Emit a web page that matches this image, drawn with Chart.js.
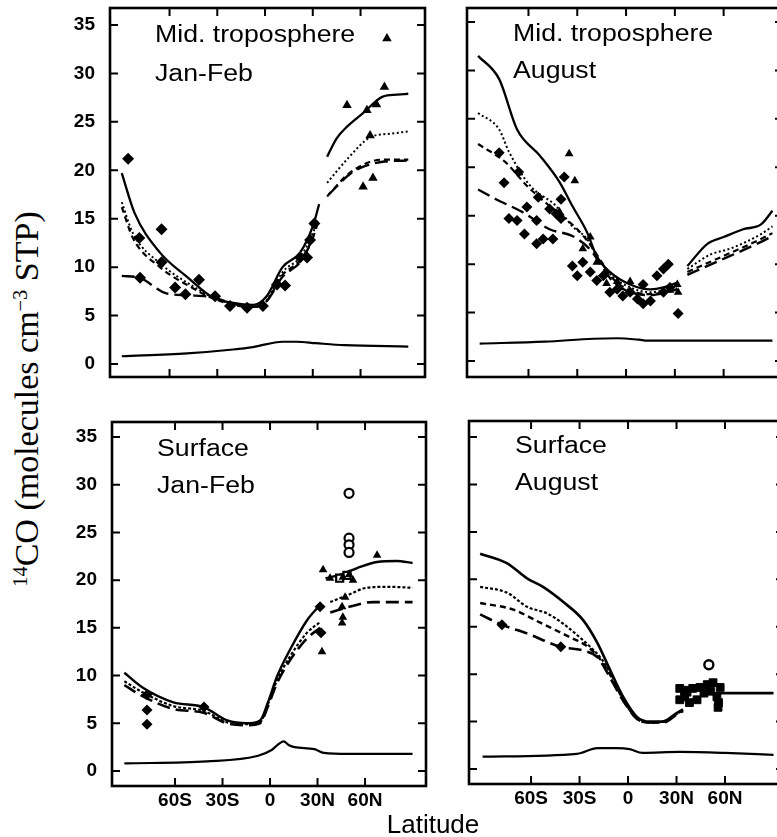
<!DOCTYPE html>
<html><head><meta charset="utf-8">
<script src="https://cdn.jsdelivr.net/npm/chart.js@4.4.0/dist/chart.umd.min.js"></script>
<style>
html,body{margin:0;padding:0;background:#fff;overflow:hidden;width:777px;height:837px;}
#wrap{position:relative;width:777px;height:837px;overflow:hidden;background:#fff;}
canvas{position:absolute;}
.lab{position:absolute;font-family:"Liberation Sans",Arial,Helvetica,sans-serif;font-size:23px;line-height:23px;color:#000;white-space:nowrap;transform:scaleX(1.16);transform-origin:0 0;}
#xtitle{position:absolute;left:383px;top:811px;width:100px;text-align:center;font-family:"Liberation Sans",Arial,sans-serif;font-size:26px;line-height:26px;color:#000;white-space:nowrap;}
#ytitle{position:absolute;left:-173px;top:379px;width:400px;height:40px;line-height:40px;text-align:center;font-family:"Liberation Serif","Times New Roman",serif;font-size:34px;color:#000;white-space:nowrap;transform:rotate(-90deg);transform-origin:50% 50%;}
#ytitle sup{font-size:0.6em;line-height:0;vertical-align:0.55em;}
</style></head>
<body><div id="wrap"></div>
<script>
// ---------- axis ticks ----------
const xTickValues = [-60, -30, 0, 30, 60];
const xTickLabels = ['60S', '30S', '0', '30N', '60N'];
const yTickValues = [0, 5, 10, 15, 20, 25, 30, 35];
const yTickLabels = ['0', '5', '10', '15', '20', '25', '30', '35'];
const xTitle = 'Latitude';
const panelTitles = [['Mid. troposphere', 'Jan-Feb'], ['Mid. troposphere', 'August'], ['Surface', 'Jan-Feb'], ['Surface', 'August']];

// ---------- Mid troposphere, Jan-Feb ----------
const tlSolid = [[-90,19.7],[-82,15.6],[-66,11.5],[-49,9.0],[-33,6.9],[-20,6.3],[-7.5,6.1],[1,7.0],[11,10.0],[22,11.5],[30,14.2],[34,16.5],[36,null],[39,21.4],[45,23.3],[51.5,24.5],[61.6,25.9],[74,27.6],[83,27.8],[90,27.9]];
const tlDotted = [[-90,16.7],[-83,13.5],[-66,10.4],[-45,8.0],[-33,6.9],[-20,6.2],[-7.5,5.9],[1,6.6],[11,9.5],[22,11.0],[30,13.5],[33,14.8],[36,null],[39,18.7],[53,21.4],[66,23.4],[80,23.8],[90,24.0]];
const tlShortDash = [[-90,16.2],[-83,13.0],[-66,10.0],[-45,7.8],[-33,6.8],[-20,6.1],[-7.5,5.9],[1,6.5],[11,9.2],[22,10.7],[30,13.0],[33,14.5],[36,null],[39,17.3],[53,19.7],[74,21.1],[90,21.1]];
const tlLongDash = [[-90,9.1],[-79,8.9],[-62,7.3],[-49,7.1],[-33,6.9],[-20,6.2],[-7.5,5.9],[1,6.5],[11,9.0],[22,10.5],[30,12.8],[36,null],[40,17.5],[55,19.8],[75,20.9],[90,21.0]];
const tlBase = [[-90,0.8],[-49,1.1],[-20,1.5],[-7.5,1.75],[11,2.3],[20,2.3],[32,2.15],[50,1.95],[90,1.8]];
const tlDiamonds = [[-86,21.2],[-65,13.9],[-79,13.0],[-65,10.5],[-78.5,8.9],[-56.5,7.9],[-50,7.2],[-41.5,8.7],[-31.4,7.0],[-22,6.0],[-11.3,5.8],[-1.3,6.0],[7.5,8.2],[12.6,8.1],[22,11.0],[26.4,11.0],[28.3,12.8],[31,14.5]];
const tlTriangles = [[76.6,33.6],[51.5,26.7],[64,26.2],[70,26.8],[75,28.6],[66,23.6],[61.6,18.3],[67.8,19.2]];

// ---------- Mid troposphere, August ----------
const trSolid = [[-91,31.5],[-78,29.1],[-67,23.9],[-53,21.2],[-41,18.5],[-33,16.0],[-24,13.3],[-18,10.8],[-10,9.2],[2.5,7.9],[15,7.4],[23,7.6],[31.5,8.1],[34.5,null],[37.7,9.8],[50,12.1],[60,12.8],[72,13.6],[83,14.1],[90,15.5]];
const trDotted = [[-91,25.6],[-78,23.9],[-72,21.6],[-59,18.1],[-43,16.0],[-33,13.9],[-24,12.6],[-18,10.8],[-10,9.0],[2.5,7.6],[15,7.1],[23,7.3],[31.5,7.8],[34.5,null],[37.7,9.5],[52,11.0],[64,11.6],[83,13.1],[90,13.9]];
const trShortDash = [[-91,22.4],[-74,20.5],[-61,18.1],[-45,15.7],[-30,13.6],[-22,12.0],[-15,10.2],[-8,8.5],[2.5,7.3],[15,6.9],[23,7.1],[31.5,7.5],[34.5,null],[37.7,9.2],[58,10.7],[83,12.6],[90,13.2]];
const trLongDash = [[-91,17.7],[-80,16.7],[-64,15.4],[-47,13.6],[-33,12.9],[-22,11.5],[-15,9.8],[-8,8.2],[2.5,7.1],[15,6.8],[23,7.0],[31.5,7.4],[34.5,null],[37.7,8.9],[58,10.4],[83,12.3],[90,12.9]];
const trBase = [[-90,1.8],[-50,2.0],[-20,2.3],[-5.5,2.35],[8,2.2],[13,2.1],[90,2.1]];
const trDiamonds = [[-78,21.5],[-75,18.4],[-66,19.5],[-61,15.9],[-72,14.7],[-67,14.5],[-62.5,13.1],[-55,14.5],[-55,12.1],[-51,12.6],[-45,12.6],[-54,16.9],[-47,15.7],[-43,15.2],[-40,16.7],[-38,19.0],[-40,14.7],[-33,9.8],[-30,8.8],[-26.6,10.2],[-22,9.2],[-18,8.3],[-14,8.8],[-10,7.1],[-5.5,7.4],[-2,6.7],[2.5,7.1],[7,6.4],[10.5,5.9],[10.5,7.9],[15,6.2],[19,8.8],[23,9.5],[26,10.0],[23,7.1],[27,7.6],[32,4.9]];
const trTriangles = [[-35,21.4],[-31.5,18.6],[-22,12.8],[-26.6,11.6],[-18,10.2],[-5.5,8.2],[2.5,8.2],[31.5,7.9],[32,7.1],[27,7.3],[-41,15.4],[-12,8.0]];

// ---------- Surface, Jan-Feb ----------
const blSolid = [[-92,10.3],[-80,8.7],[-61,7.2],[-42,6.7],[-27,5.3],[-14.5,5.0],[-6.3,5.3],[-1.3,7.2],[4.4,9.9],[12.6,12.7],[23.4,15.8],[31.6,17.4],[33.5,null],[35,20.2],[45,20.6],[57,21.4],[67.6,21.9],[80,22.0],[90,21.8]];
const blDotted = [[-92,9.4],[-80,8.2],[-61,6.8],[-42,6.3],[-27,5.1],[-14.5,4.9],[-6.3,5.1],[-1.3,7.0],[4.4,9.5],[12.6,12.0],[23.4,14.5],[31.6,15.6],[35,null],[38,17.7],[50,18.5],[61,19.2],[75,19.3],[90,19.2]];
const blLongDash = [[-92,9.0],[-80,7.8],[-61,6.5],[-42,6.1],[-27,5.0],[-14.5,4.8],[-6.3,5.0],[-1.3,6.8],[4.4,9.2],[12.6,11.6],[23.4,13.9],[31.6,15.0],[35,null],[38,16.6],[50,17.2],[65,17.7],[90,17.7]];
const blBase = [[-92,0.8],[-40,1.0],[-7.5,1.6],[1,2.2],[6,2.9],[8.6,3.1],[12,2.7],[15.5,2.5],[28,2.3],[34,1.9],[50,1.8],[90,1.8]];
const blDiamonds = [[-77.7,8.0],[-77.7,6.4],[-77.7,4.9],[-41.7,6.7],[31.6,17.2],[32.2,14.5]];
const blTriangles = [[33.5,21.1],[32.8,12.5],[37.9,20.2],[46,20.3],[52.4,20.0],[47.4,18.2],[45.5,17.2],[46,16.1],[45.5,15.5],[67.6,22.6],[50,20.6]];
const blCircles = [[49.9,29.1],[49.9,24.4],[49.9,23.7],[49.9,22.9]];
const blSquares = [[48.6,20.5],[44,20.2]];

// ---------- Surface, August ----------
const brSolid = [[-91.5,22.7],[-75,21.7],[-62.5,20.1],[-52.6,19.2],[-40,17.6],[-27.8,15.7],[-19,13.3],[-11,10.4],[-3,7.6],[5.5,5.5],[13.6,5.0],[21.6,5.0],[30,5.9],[34,6.3],[40,null],[45,8.0],[60,8.0],[75,8.0],[90,8.0]];
const brDotted = [[-91.5,19.2],[-75,18.6],[-62.5,17.1],[-50,16.4],[-40,15.3],[-30,13.9],[-23.5,12.9],[-16,11.5],[-9,9.5],[-3,7.4],[5.5,5.4],[13.6,4.9],[21.6,5.0],[30,5.8],[34,6.2]];
const brShortDash = [[-91.5,17.5],[-71,16.8],[-54,15.4],[-36,13.9],[-25,12.9],[-16,11.3],[-9,9.3],[-3,7.3],[5.5,5.3],[13.6,4.9],[21.6,5.0],[30,5.8],[34,6.2]];
const brLongDash = [[-91.5,16.3],[-78,15.2],[-62.5,14.3],[-42,12.9],[-28,12.5],[-19,11.8],[-11,9.6],[-3,7.2],[5.5,5.3],[13.6,4.9],[21.6,4.9],[30,5.7],[34,6.1]];
const brBase = [[-90,1.3],[-31.5,1.6],[-19,2.2],[-7,2.2],[1,2.1],[9,1.7],[32,1.8],[60,1.7],[90,1.5]];
const brDiamonds = [[-78,15.2],[-41.6,12.9]];
const brCircles = [[50,11.0]];
const brSquares = [[32,8.5],[35,8.3],[36.5,8.1],[40,8.5],[44.5,8.6],[49,8.9],[52.6,9.1],[55,7.6],[55.7,6.5],[32,7.3],[35,7.6],[42.7,7.3],[57,8.6],[38,7.0],[47,8.0],[51,8.2],[56,7.0]];

// ---------- helpers ----------
const toXY = a => a.map(([x, y]) => ({x, y}));
const lineDS = (pts, dash, w) => ({data: toXY(pts), showLine: true, borderColor: '#000', borderWidth: w, borderDash: dash,
  pointRadius: 0, fill: false, cubicInterpolationMode: 'monotone', spanGaps: false, order: 3});
const markDS = (pts, style, r, fill, bw) => ({data: toXY(pts), showLine: false, pointStyle: style, pointRadius: r,
  backgroundColor: fill, borderColor: '#000', borderWidth: bw, order: 1});
const DOT = [2, 2.5], SHORT = [6, 4], LONG = [13, 6];

const panels = [
  {frame: [110, 8, 425, 377], xr: [-97.4, 100.5], yr: [-1.34, 36.75], yLab: true, xLab: false,
   title: panelTitles[0], tpos: [155, 22.5, 62],
   ds: [lineDS(tlSolid, [], 2.3), lineDS(tlDotted, DOT, 2), lineDS(tlShortDash, SHORT, 2.2), lineDS(tlLongDash, LONG, 2.4), lineDS(tlBase, [], 2.2),
        markDS(tlDiamonds, 'rectRot', 6, '#000', 0), markDS(tlTriangles, 'triangle', 5.5, '#000', 0)]},
  {frame: [467, 8, 783, 377], xr: [-97.8, 96.5], yr: [-1.65, 36.44], yLab: false, xLab: false,
   title: panelTitles[1], tpos: [513, 21.5, 58.5],
   ds: [lineDS(trSolid, [], 2.3), lineDS(trDotted, DOT, 2), lineDS(trShortDash, SHORT, 2.2), lineDS(trLongDash, LONG, 2.4), lineDS(trBase, [], 2.2),
        markDS(trDiamonds, 'rectRot', 5.5, '#000', 0), markDS(trTriangles, 'triangle', 5, '#000', 0)]},
  {frame: [112, 422, 426, 786], xr: [-99.8, 98.5], yr: [-1.57, 36.57], yLab: true, xLab: true,
   title: panelTitles[2], tpos: [157, 436.5, 473.5],
   ds: [lineDS(blSolid, [], 2.4), lineDS(blDotted, [3, 2], 2.2), lineDS(blLongDash, LONG, 2.6), lineDS(blBase, [], 2.2),
        markDS(blDiamonds, 'rectRot', 5.5, '#000', 0), markDS(blTriangles, 'triangle', 5, '#000', 0),
        markDS(blCircles, 'circle', 4.5, '#fff', 2.2), markDS(blSquares, 'rect', 5, '#fff', 2.2)]},
  {frame: [469, 421, 784, 784], xr: [-98.4, 96.5], yr: [-1.58, 36.69], yLab: false, xLab: true,
   title: panelTitles[3], tpos: [515, 433.5, 470.5],
   ds: [lineDS(brSolid, [], 2.6), lineDS(brDotted, [3, 2], 2.2), lineDS(brShortDash, SHORT, 2.4), lineDS(brLongDash, LONG, 2.6), lineDS(brBase, [], 2.2),
        markDS(brDiamonds, 'rectRot', 5.5, '#000', 0), markDS(brCircles, 'circle', 4.5, '#fff', 2.4),
        markDS(brSquares, 'rect', 5.5, '#000', 1)]}
];

const framePlugin = {
  id: 'frame',
  afterDraw(chart) {
    const {ctx, chartArea: a, scales: {x, y}} = chart;
    ctx.save();
    ctx.strokeStyle = '#000';
    ctx.lineWidth = 2.6;
    ctx.strokeRect(a.left, a.top, a.right - a.left, a.bottom - a.top);
    ctx.lineWidth = 2;
    ctx.beginPath();
    x.ticks.forEach(t => { const px = x.getPixelForValue(t.value);
      ctx.moveTo(px, a.bottom); ctx.lineTo(px, a.bottom - 8); ctx.moveTo(px, a.top); ctx.lineTo(px, a.top + 8); });
    y.ticks.forEach(t => { const py = y.getPixelForValue(t.value);
      ctx.moveTo(a.left, py); ctx.lineTo(a.left + 8, py); ctx.moveTo(a.right, py); ctx.lineTo(a.right - 8, py); });
    ctx.stroke();
    ctx.restore();
  }
};

const wrap = document.getElementById('wrap');
const padL = 60, padT = 40, padR = 10, padB = 40;
const tickFont = {family: '"Liberation Sans", Arial, sans-serif', size: 19, weight: 'bold'};

panels.forEach(p => {
  const fw = p.frame[2] - p.frame[0], fh = p.frame[3] - p.frame[1];
  const cv = document.createElement('canvas');
  cv.width = padL + fw + padR; cv.height = padT + fh + padB;
  cv.style.width = cv.width + 'px'; cv.style.height = cv.height + 'px';
  cv.style.left = (p.frame[0] - padL) + 'px'; cv.style.top = (p.frame[1] - padT) + 'px';
  wrap.appendChild(cv);
  new Chart(cv, {
    type: 'scatter',
    data: {datasets: p.ds},
    options: {
      responsive: false, animation: false, devicePixelRatio: 1, events: [],
      layout: {padding: {left: 0, top: padT, right: padR, bottom: 0}},
      plugins: {legend: {display: false}, tooltip: {enabled: false}},
      scales: {
        x: {type: 'linear', position: 'bottom', min: p.xr[0], max: p.xr[1],
            afterBuildTicks: s => { s.ticks = xTickValues.map(v => ({value: v})); },
            afterFit: s => { s.height = padB; },
            grid: {display: false, drawTicks: false}, border: {display: false},
            ticks: {display: p.xLab, padding: 3, color: '#000', font: tickFont, autoSkip: false, maxRotation: 0,
                    callback: v => { const i = xTickValues.indexOf(v); return i >= 0 ? xTickLabels[i] : ''; }}},
        y: {type: 'linear', position: 'left', min: p.yr[0], max: p.yr[1],
            afterBuildTicks: s => { s.ticks = yTickValues.map(v => ({value: v})); },
            afterFit: s => { s.width = padL; },
            grid: {display: false, drawTicks: false}, border: {display: false},
            ticks: {display: p.yLab, padding: 15, color: '#000', font: tickFont, autoSkip: false,
                    callback: v => { const i = yTickValues.indexOf(v); return i >= 0 ? yTickLabels[i] : ''; }}}
      }
    },
    plugins: [framePlugin]
  });
  p.title.forEach((t, i) => {
    const d = document.createElement('div');
    d.className = 'lab';
    d.textContent = t;
    d.style.left = p.tpos[0] + 'px';
    d.style.top = p.tpos[1 + i] + 'px';
    wrap.appendChild(d);
  });
});

const xt = document.createElement('div');
xt.id = 'xtitle'; xt.textContent = xTitle; wrap.appendChild(xt);
const yt = document.createElement('div');
yt.id = 'ytitle';
yt.innerHTML = '<sup>14</sup>CO (molecules cm<sup>\u22123</sup> STP)';
wrap.appendChild(yt);
</script>
</body></html>
